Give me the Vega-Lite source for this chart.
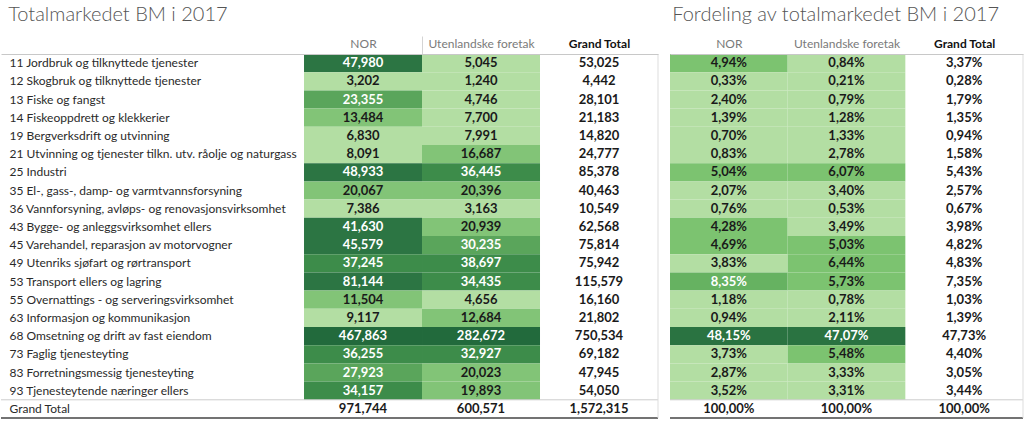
{
  "$schema": "https://vega.github.io/schema/vega-lite/v6.json",
  "background": "white",
  "padding": {"left": 0, "top": 4, "right": 4, "bottom": 0},
  "spacing": 10,
  "resolve": {"scale": {"color": "independent"}},
  "config": {
    "font": "Lato",
    "view": {"stroke": null},
    "locale": {"number": {"decimal": ",", "thousands": ",", "grouping": [3], "currency": ["", ""]}},
    "title": {"fontSize": 20, "fontWeight": 300, "color": "#555555", "anchor": "start", "offset": 11}
  },
  "datasets": {
    "tabell": [
      {"n": "11 Jordbruk og tilknyttede tjenester", "k": "NOR", "a": 47980, "p": 0.0494},
      {"n": "11 Jordbruk og tilknyttede tjenester", "k": "Utenlandske foretak", "a": 5045, "p": 0.0084},
      {"n": "11 Jordbruk og tilknyttede tjenester", "k": "Grand Total", "a": 53025, "p": 0.0337},
      {"n": "12 Skogbruk og tilknyttede tjenester", "k": "NOR", "a": 3202, "p": 0.0033},
      {"n": "12 Skogbruk og tilknyttede tjenester", "k": "Utenlandske foretak", "a": 1240, "p": 0.0021},
      {"n": "12 Skogbruk og tilknyttede tjenester", "k": "Grand Total", "a": 4442, "p": 0.0028},
      {"n": "13 Fiske og fangst", "k": "NOR", "a": 23355, "p": 0.0240},
      {"n": "13 Fiske og fangst", "k": "Utenlandske foretak", "a": 4746, "p": 0.0079},
      {"n": "13 Fiske og fangst", "k": "Grand Total", "a": 28101, "p": 0.0179},
      {"n": "14 Fiskeoppdrett og klekkerier", "k": "NOR", "a": 13484, "p": 0.0139},
      {"n": "14 Fiskeoppdrett og klekkerier", "k": "Utenlandske foretak", "a": 7700, "p": 0.0128},
      {"n": "14 Fiskeoppdrett og klekkerier", "k": "Grand Total", "a": 21183, "p": 0.0135},
      {"n": "19 Bergverksdrift og utvinning", "k": "NOR", "a": 6830, "p": 0.0070},
      {"n": "19 Bergverksdrift og utvinning", "k": "Utenlandske foretak", "a": 7991, "p": 0.0133},
      {"n": "19 Bergverksdrift og utvinning", "k": "Grand Total", "a": 14820, "p": 0.0094},
      {"n": "21 Utvinning og tjenester tilkn. utv. råolje og naturgass", "k": "NOR", "a": 8091, "p": 0.0083},
      {"n": "21 Utvinning og tjenester tilkn. utv. råolje og naturgass", "k": "Utenlandske foretak", "a": 16687, "p": 0.0278},
      {"n": "21 Utvinning og tjenester tilkn. utv. råolje og naturgass", "k": "Grand Total", "a": 24777, "p": 0.0158},
      {"n": "25 Industri", "k": "NOR", "a": 48933, "p": 0.0504},
      {"n": "25 Industri", "k": "Utenlandske foretak", "a": 36445, "p": 0.0607},
      {"n": "25 Industri", "k": "Grand Total", "a": 85378, "p": 0.0543},
      {"n": "35 El-, gass-, damp- og varmtvannsforsyning", "k": "NOR", "a": 20067, "p": 0.0207},
      {"n": "35 El-, gass-, damp- og varmtvannsforsyning", "k": "Utenlandske foretak", "a": 20396, "p": 0.0340},
      {"n": "35 El-, gass-, damp- og varmtvannsforsyning", "k": "Grand Total", "a": 40463, "p": 0.0257},
      {"n": "36 Vannforsyning, avløps- og renovasjonsvirksomhet", "k": "NOR", "a": 7386, "p": 0.0076},
      {"n": "36 Vannforsyning, avløps- og renovasjonsvirksomhet", "k": "Utenlandske foretak", "a": 3163, "p": 0.0053},
      {"n": "36 Vannforsyning, avløps- og renovasjonsvirksomhet", "k": "Grand Total", "a": 10549, "p": 0.0067},
      {"n": "43 Bygge- og anleggsvirksomhet ellers", "k": "NOR", "a": 41630, "p": 0.0428},
      {"n": "43 Bygge- og anleggsvirksomhet ellers", "k": "Utenlandske foretak", "a": 20939, "p": 0.0349},
      {"n": "43 Bygge- og anleggsvirksomhet ellers", "k": "Grand Total", "a": 62568, "p": 0.0398},
      {"n": "45 Varehandel, reparasjon av motorvogner", "k": "NOR", "a": 45579, "p": 0.0469},
      {"n": "45 Varehandel, reparasjon av motorvogner", "k": "Utenlandske foretak", "a": 30235, "p": 0.0503},
      {"n": "45 Varehandel, reparasjon av motorvogner", "k": "Grand Total", "a": 75814, "p": 0.0482},
      {"n": "49 Utenriks sjøfart og rørtransport", "k": "NOR", "a": 37245, "p": 0.0383},
      {"n": "49 Utenriks sjøfart og rørtransport", "k": "Utenlandske foretak", "a": 38697, "p": 0.0644},
      {"n": "49 Utenriks sjøfart og rørtransport", "k": "Grand Total", "a": 75942, "p": 0.0483},
      {"n": "53 Transport ellers og lagring", "k": "NOR", "a": 81144, "p": 0.0835},
      {"n": "53 Transport ellers og lagring", "k": "Utenlandske foretak", "a": 34435, "p": 0.0573},
      {"n": "53 Transport ellers og lagring", "k": "Grand Total", "a": 115579, "p": 0.0735},
      {"n": "55 Overnattings - og serveringsvirksomhet", "k": "NOR", "a": 11504, "p": 0.0118},
      {"n": "55 Overnattings - og serveringsvirksomhet", "k": "Utenlandske foretak", "a": 4656, "p": 0.0078},
      {"n": "55 Overnattings - og serveringsvirksomhet", "k": "Grand Total", "a": 16160, "p": 0.0103},
      {"n": "63 Informasjon og kommunikasjon", "k": "NOR", "a": 9117, "p": 0.0094},
      {"n": "63 Informasjon og kommunikasjon", "k": "Utenlandske foretak", "a": 12684, "p": 0.0211},
      {"n": "63 Informasjon og kommunikasjon", "k": "Grand Total", "a": 21802, "p": 0.0139},
      {"n": "68 Omsetning og drift av fast eiendom", "k": "NOR", "a": 467863, "p": 0.4815},
      {"n": "68 Omsetning og drift av fast eiendom", "k": "Utenlandske foretak", "a": 282672, "p": 0.4707},
      {"n": "68 Omsetning og drift av fast eiendom", "k": "Grand Total", "a": 750534, "p": 0.4773},
      {"n": "73 Faglig tjenesteyting", "k": "NOR", "a": 36255, "p": 0.0373},
      {"n": "73 Faglig tjenesteyting", "k": "Utenlandske foretak", "a": 32927, "p": 0.0548},
      {"n": "73 Faglig tjenesteyting", "k": "Grand Total", "a": 69182, "p": 0.0440},
      {"n": "83 Forretningsmessig tjenesteyting", "k": "NOR", "a": 27923, "p": 0.0287},
      {"n": "83 Forretningsmessig tjenesteyting", "k": "Utenlandske foretak", "a": 20023, "p": 0.0333},
      {"n": "83 Forretningsmessig tjenesteyting", "k": "Grand Total", "a": 47945, "p": 0.0305},
      {"n": "93 Tjenesteytende næringer ellers", "k": "NOR", "a": 34157, "p": 0.0352},
      {"n": "93 Tjenesteytende næringer ellers", "k": "Utenlandske foretak", "a": 19893, "p": 0.0331},
      {"n": "93 Tjenesteytende næringer ellers", "k": "Grand Total", "a": 54050, "p": 0.0344},
      {"n": "Grand Total", "k": "NOR", "a": 971744, "p": 1},
      {"n": "Grand Total", "k": "Utenlandske foretak", "a": 600571, "p": 1},
      {"n": "Grand Total", "k": "Grand Total", "a": 1572315, "p": 1}
    ]
  },
  "hconcat": [
    {
      "title": {"text": "Totalmarkedet BM i 2017", "dx": 8},
      "width": 657,
      "height": 364,
      "data": {"name": "tabell"},
      "layer": [
        {
          "transform": [{"filter": "datum.k !== 'Grand Total' && datum.n !== 'Grand Total'"}],
          "mark": {"type": "rect"},
          "encoding": {
            "x": {
              "field": "k", "type": "nominal",
              "scale": {"domain": [" ", "NOR", "Utenlandske foretak", "Grand Total"], "paddingInner": 0, "paddingOuter": 0.784, "align": 1},
              "axis": {
                "orient": "top", "title": null, "labelAngle": 0,
                "domain": true, "domainColor": "#c8c8c8", "domainWidth": 1,
                "ticks": true, "tickBand": "extent", "tickSize": 18, "tickColor": "#d4d4d4",
                "tickOpacity": {"condition": {"test": "datum.value === 'NOR'", "value": 1}, "value": 0},
                "labelPadding": -14, "labelFontSize": 12,
                "labelColor": {"condition": {"test": "datum.value === 'Grand Total'", "value": "#111111"}, "value": "#7a7a7a"},
                "labelFontWeight": {"condition": {"test": "datum.value === 'Grand Total'", "value": "bold"}, "value": "normal"}
              }
            },
            "y": {
              "field": "n", "type": "nominal",
              "scale": {"domain": ["11 Jordbruk og tilknyttede tjenester", "12 Skogbruk og tilknyttede tjenester", "13 Fiske og fangst", "14 Fiskeoppdrett og klekkerier", "19 Bergverksdrift og utvinning", "21 Utvinning og tjenester tilkn. utv. råolje og naturgass", "25 Industri", "35 El-, gass-, damp- og varmtvannsforsyning", "36 Vannforsyning, avløps- og renovasjonsvirksomhet", "43 Bygge- og anleggsvirksomhet ellers", "45 Varehandel, reparasjon av motorvogner", "49 Utenriks sjøfart og rørtransport", "53 Transport ellers og lagring", "55 Overnattings - og serveringsvirksomhet", "63 Informasjon og kommunikasjon", "68 Omsetning og drift av fast eiendom", "73 Faglig tjenesteyting", "83 Forretningsmessig tjenesteyting", "93 Tjenesteytende næringer ellers", "Grand Total"], "paddingInner": 0, "paddingOuter": 0},
              "axis": {"title": null, "domain": false, "ticks": false, "labelAlign": "left", "labelPadding": -8, "labelFontSize": 12, "labelColor": "#2a2a2a", "labelLimit": 400, "labelOverlap": false}
            },
            "color": {
              "field": "a", "type": "quantitative", "legend": null,
              "scale": {"type": "threshold", "domain": [10000, 22000, 31000, 40000, 200000], "range": ["#b3dea3", "#82c477", "#5aa55b", "#3d8c4a", "#2c7543", "#226a3c"]}
            }
          }
        },
        {
          "mark": {"type": "text", "fontSize": 13, "fontWeight": "bold"},
          "encoding": {
            "x": {"field": "k", "type": "nominal"},
            "y": {"field": "n", "type": "nominal"},
            "text": {"field": "a", "type": "quantitative", "format": ",.0f"},
            "color": {"condition": {"test": "datum.a >= 22000 && datum.k !== 'Grand Total' && datum.n !== 'Grand Total'", "value": "#ffffff"}, "value": "#1a1a1a"}
          }
        },
        {
          "transform": [{"filter": "datum.n === 'Grand Total' && datum.k === 'NOR'"}],
          "mark": {"type": "rule", "color": "#cccccc", "strokeWidth": 1},
          "encoding": {"y": {"field": "n", "type": "nominal", "bandPosition": 0}}
        },
        {
          "transform": [{"filter": "datum.n === 'Grand Total' && datum.k === 'NOR'"}],
          "mark": {"type": "rule", "color": "#444444", "strokeWidth": 1.5},
          "encoding": {"y": {"field": "n", "type": "nominal", "bandPosition": 1}}
        },
        {
          "transform": [{"filter": "datum.n === 'Grand Total' && datum.k === 'Grand Total'"}],
          "mark": {"type": "rule", "color": "#dddddd", "strokeWidth": 1},
          "encoding": {"x": {"field": "k", "type": "nominal", "bandPosition": 1}}
        }
      ]
    },
    {
      "title": {"text": "Fordeling av totalmarkedet BM i 2017", "dx": 3},
      "width": 353,
      "height": 364,
      "data": {"name": "tabell"},
      "layer": [
        {
          "transform": [{"filter": "datum.k !== 'Grand Total' && datum.n !== 'Grand Total'"}],
          "mark": {"type": "rect"},
          "encoding": {
            "x": {
              "field": "k", "type": "nominal",
              "scale": {"domain": ["NOR", "Utenlandske foretak", "Grand Total"], "paddingInner": 0, "paddingOuter": 0},
              "axis": {
                "orient": "top", "title": null, "labelAngle": 0,
                "domain": true, "domainColor": "#c8c8c8", "domainWidth": 1,
                "ticks": true, "tickBand": "extent", "tickSize": 18, "tickOpacity": 0,
                "labelPadding": -14, "labelFontSize": 12,
                "labelColor": {"condition": {"test": "datum.value === 'Grand Total'", "value": "#111111"}, "value": "#7a7a7a"},
                "labelFontWeight": {"condition": {"test": "datum.value === 'Grand Total'", "value": "bold"}, "value": "normal"}
              }
            },
            "y": {
              "field": "n", "type": "nominal",
              "scale": {"domain": ["11 Jordbruk og tilknyttede tjenester", "12 Skogbruk og tilknyttede tjenester", "13 Fiske og fangst", "14 Fiskeoppdrett og klekkerier", "19 Bergverksdrift og utvinning", "21 Utvinning og tjenester tilkn. utv. råolje og naturgass", "25 Industri", "35 El-, gass-, damp- og varmtvannsforsyning", "36 Vannforsyning, avløps- og renovasjonsvirksomhet", "43 Bygge- og anleggsvirksomhet ellers", "45 Varehandel, reparasjon av motorvogner", "49 Utenriks sjøfart og rørtransport", "53 Transport ellers og lagring", "55 Overnattings - og serveringsvirksomhet", "63 Informasjon og kommunikasjon", "68 Omsetning og drift av fast eiendom", "73 Faglig tjenesteyting", "83 Forretningsmessig tjenesteyting", "93 Tjenesteytende næringer ellers", "Grand Total"], "paddingInner": 0, "paddingOuter": 0},
              "axis": null
            },
            "color": {
              "field": "p", "type": "quantitative", "legend": null,
              "scale": {"type": "threshold", "domain": [0.04, 0.08, 0.2], "range": ["#b3dea3", "#7cc370", "#66b261", "#2a7341"]}
            }
          }
        },
        {
          "mark": {"type": "text", "fontSize": 13, "fontWeight": "bold"},
          "encoding": {
            "x": {"field": "k", "type": "nominal"},
            "y": {"field": "n", "type": "nominal"},
            "text": {"field": "p", "type": "quantitative", "format": ".2%"},
            "color": {"condition": {"test": "datum.p >= 0.08 && datum.k !== 'Grand Total' && datum.n !== 'Grand Total'", "value": "#ffffff"}, "value": "#1a1a1a"}
          }
        },
        {
          "transform": [{"filter": "datum.n === 'Grand Total' && datum.k === 'NOR'"}],
          "mark": {"type": "rule", "color": "#cccccc", "strokeWidth": 1},
          "encoding": {"y": {"field": "n", "type": "nominal", "bandPosition": 0}}
        },
        {
          "transform": [{"filter": "datum.n === 'Grand Total' && datum.k === 'NOR'"}],
          "mark": {"type": "rule", "color": "#444444", "strokeWidth": 1.5},
          "encoding": {"y": {"field": "n", "type": "nominal", "bandPosition": 1}}
        },
        {
          "transform": [{"filter": "datum.n === 'Grand Total' && datum.k === 'Grand Total'"}],
          "mark": {"type": "rule", "color": "#dddddd", "strokeWidth": 1},
          "encoding": {"x": {"field": "k", "type": "nominal", "bandPosition": 1}}
        }
      ]
    }
  ]
}
